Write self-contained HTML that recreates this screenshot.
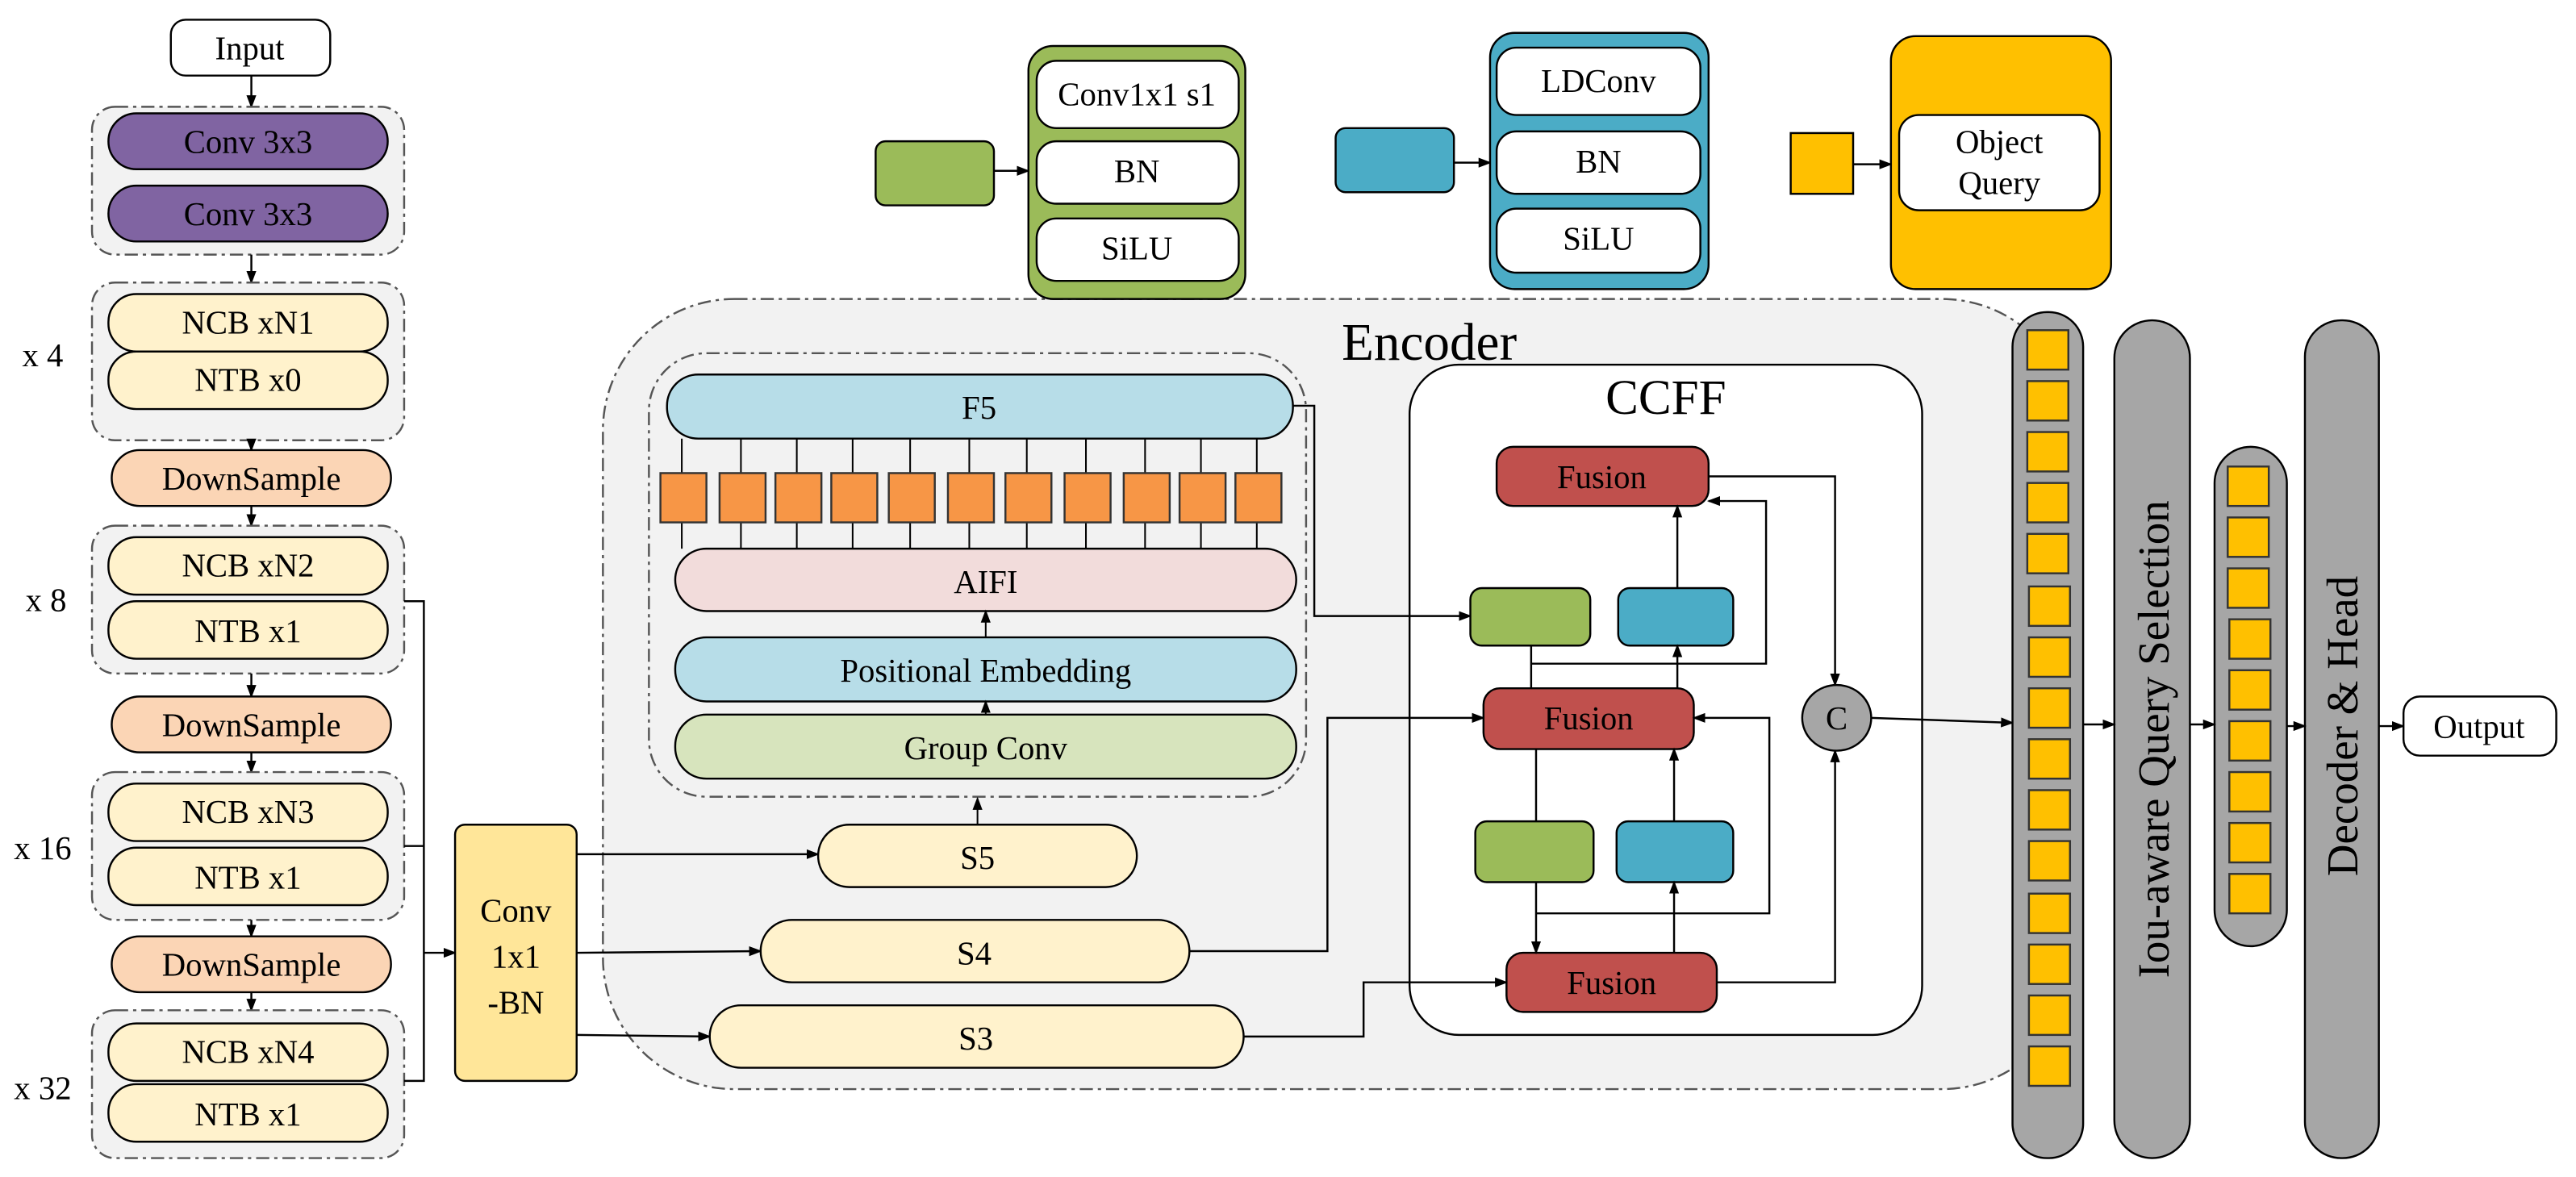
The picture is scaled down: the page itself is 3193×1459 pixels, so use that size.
<!DOCTYPE html>
<html><head><meta charset="utf-8"><style>
html,body{margin:0;padding:0;background:#fff;}
svg{display:block;}
text{font-family:"Liberation Serif","DejaVu Serif",serif;fill:#000;}
</style></head><body>
<svg width="3193" height="1459" viewBox="0 0 1568 716.5" preserveAspectRatio="none" xmlns="http://www.w3.org/2000/svg">
<defs>
<marker id="a" markerWidth="8" markerHeight="8" refX="7" refY="4" orient="auto" markerUnits="userSpaceOnUse"><path d="M0,1 L8,4 L0,7 z" fill="#000"/></marker>
</defs>
<g stroke="#000" stroke-width="1.2">
<!-- Left column -->
<rect x="104" y="12" width="97" height="34" rx="9" fill="#fff"/>
<line x1="153" y1="46" x2="153" y2="65" marker-end="url(#a)"/>
<rect x="56" y="65" width="190" height="90" rx="14" fill="#f2f2f2" stroke="#555" stroke-dasharray="8,3,2,3"/>
<rect x="66" y="69" width="170" height="34" rx="17" fill="#8064a2"/>
<rect x="66" y="113" width="170" height="34" rx="17" fill="#8064a2"/>
<line x1="153" y1="155" x2="153" y2="172" marker-end="url(#a)"/>
<rect x="56" y="172" width="190" height="96" rx="14" fill="#f2f2f2" stroke="#555" stroke-dasharray="8,3,2,3"/>
<rect x="66" y="179" width="170" height="35" rx="17" fill="#fff2cc"/>
<rect x="66" y="214" width="170" height="35" rx="17" fill="#fff2cc"/>
<line x1="153" y1="268" x2="153" y2="274" marker-end="url(#a)"/>
<rect x="68" y="274" width="170" height="34" rx="17" fill="#fbd5b5"/>
<line x1="153" y1="308" x2="153" y2="320" marker-end="url(#a)"/>
<rect x="56" y="320" width="190" height="90" rx="14" fill="#f2f2f2" stroke="#555" stroke-dasharray="8,3,2,3"/>
<rect x="66" y="327" width="170" height="35" rx="17" fill="#fff2cc"/>
<rect x="66" y="366" width="170" height="35" rx="17" fill="#fff2cc"/>
<line x1="153" y1="410" x2="153" y2="424" marker-end="url(#a)"/>
<rect x="68" y="424" width="170" height="34" rx="17" fill="#fbd5b5"/>
<line x1="153" y1="458" x2="153" y2="470" marker-end="url(#a)"/>
<rect x="56" y="470" width="190" height="90" rx="14" fill="#f2f2f2" stroke="#555" stroke-dasharray="8,3,2,3"/>
<rect x="66" y="477" width="170" height="35" rx="17" fill="#fff2cc"/>
<rect x="66" y="516" width="170" height="35" rx="17" fill="#fff2cc"/>
<line x1="153" y1="560" x2="153" y2="570" marker-end="url(#a)"/>
<rect x="68" y="570" width="170" height="34" rx="17" fill="#fbd5b5"/>
<line x1="153" y1="604" x2="153" y2="615" marker-end="url(#a)"/>
<rect x="56" y="615" width="190" height="90" rx="14" fill="#f2f2f2" stroke="#555" stroke-dasharray="8,3,2,3"/>
<rect x="66" y="623" width="170" height="35" rx="17" fill="#fff2cc"/>
<rect x="66" y="660" width="170" height="35" rx="17" fill="#fff2cc"/>
<polyline points="246,366 258,366 258,658 246,658" fill="none"/>
<line x1="246" y1="515" x2="258" y2="515"/>
<line x1="258" y1="580" x2="277" y2="580" marker-end="url(#a)"/>
<rect x="277" y="502" width="74" height="156" rx="6" fill="#ffe699"/>
<!-- Encoder -->
<rect x="367" y="182" width="895" height="481" rx="80" fill="#f2f2f2" stroke="#555" stroke-dasharray="8,3,2,3"/>
<line x1="351" y1="520" x2="498" y2="520" marker-end="url(#a)"/>
<line x1="351" y1="580" x2="463" y2="579" marker-end="url(#a)"/>
<line x1="351" y1="630" x2="432" y2="631" marker-end="url(#a)"/>
<rect x="395" y="215" width="400" height="270" rx="35" fill="none" stroke="#555" stroke-dasharray="8,3,2,3"/>
<rect x="406" y="228" width="381" height="39" rx="19" fill="#b7dde8"/>
<g stroke-width="1">
<line x1="415" y1="267" x2="415" y2="334"/><line x1="451" y1="267" x2="451" y2="334"/><line x1="485" y1="267" x2="485" y2="334"/><line x1="519" y1="267" x2="519" y2="334"/><line x1="554" y1="267" x2="554" y2="334"/><line x1="590" y1="267" x2="590" y2="334"/><line x1="625" y1="267" x2="625" y2="334"/><line x1="661" y1="267" x2="661" y2="334"/><line x1="697" y1="267" x2="697" y2="334"/><line x1="731" y1="267" x2="731" y2="334"/><line x1="765" y1="267" x2="765" y2="334"/>
</g>
<g fill="#f79646" stroke="#333">
<rect x="402" y="288" width="28" height="30"/><rect x="438" y="288" width="28" height="30"/><rect x="472" y="288" width="28" height="30"/><rect x="506" y="288" width="28" height="30"/><rect x="541" y="288" width="28" height="30"/><rect x="577" y="288" width="28" height="30"/><rect x="612" y="288" width="28" height="30"/><rect x="648" y="288" width="28" height="30"/><rect x="684" y="288" width="28" height="30"/><rect x="718" y="288" width="28" height="30"/><rect x="752" y="288" width="28" height="30"/>
</g>
<rect x="411" y="334" width="378" height="38" rx="19" fill="#f2dcdb"/>
<line x1="600" y1="388" x2="600" y2="372" marker-end="url(#a)" stroke-width="1"/>
<rect x="411" y="388" width="378" height="39" rx="19" fill="#b7dde8"/>
<line x1="600" y1="435" x2="600" y2="427" marker-end="url(#a)" stroke-width="1"/>
<rect x="411" y="435" width="378" height="39" rx="19" fill="#d7e4bd"/>
<line x1="595" y1="502" x2="595" y2="486" marker-end="url(#a)" stroke-width="1"/>
<rect x="498" y="502" width="194" height="38" rx="19" fill="#fff2cc"/>
<rect x="463" y="560" width="261" height="38" rx="19" fill="#fff2cc"/>
<rect x="432" y="612" width="325" height="38" rx="19" fill="#fff2cc"/>
<!-- CCFF -->
<rect x="858" y="222" width="312" height="408" rx="30" fill="#fff"/>
<polyline points="787,247 800,247 800,375 895,375" fill="none" marker-end="url(#a)"/>
<polyline points="724,579 808,579 808,437 903,437" fill="none" marker-end="url(#a)"/>
<polyline points="757,631 830,631 830,598 917,598" fill="none" marker-end="url(#a)"/>
<rect x="911" y="272" width="129" height="36" rx="10" fill="#c0504d"/>
<rect x="895" y="358" width="73" height="35" rx="7" fill="#9bbb59"/>
<rect x="985" y="358" width="70" height="35" rx="7" fill="#4bacc6"/>
<rect x="903" y="419" width="128" height="37" rx="10" fill="#c0504d"/>
<rect x="898" y="500" width="72" height="37" rx="7" fill="#9bbb59"/>
<rect x="984" y="500" width="71" height="37" rx="7" fill="#4bacc6"/>
<rect x="917" y="580" width="128" height="36" rx="10" fill="#c0504d"/>
<line x1="1021" y1="358" x2="1021" y2="308" marker-end="url(#a)"/>
<line x1="932" y1="393" x2="932" y2="419"/>
<polyline points="932,404 1075,404 1075,305 1040,305" fill="none" marker-end="url(#a)"/>
<line x1="1021" y1="419" x2="1021" y2="393" marker-end="url(#a)"/>
<line x1="935" y1="456" x2="935" y2="500"/>
<line x1="1019" y1="500" x2="1019" y2="456" marker-end="url(#a)"/>
<line x1="935" y1="537" x2="935" y2="580" marker-end="url(#a)"/>
<polyline points="935,556 1077,556 1077,437 1031,437" fill="none" marker-end="url(#a)"/>
<line x1="1019" y1="580" x2="1019" y2="537" marker-end="url(#a)"/>
<polyline points="1040,290 1117,290 1117,417" fill="none" marker-end="url(#a)"/>
<polyline points="1045,598 1117,598 1117,457" fill="none" marker-end="url(#a)"/>
<ellipse cx="1118" cy="437" rx="21" ry="20" fill="#a6a6a6"/>
<line x1="1139" y1="437" x2="1225" y2="440" marker-end="url(#a)"/>
<!-- Right -->
<rect x="1225" y="190" width="43" height="515" rx="21" fill="#a6a6a6"/>
<rect x="1287" y="195" width="46" height="510" rx="23" fill="#a6a6a6"/>
<rect x="1348" y="272" width="44" height="304" rx="22" fill="#a6a6a6"/>
<rect x="1403" y="195" width="45" height="510" rx="22" fill="#a6a6a6"/>
<g fill="#ffc000" stroke="#333">
<rect x="1234" y="201" width="25" height="24"/><rect x="1234" y="232" width="25" height="24"/><rect x="1234" y="263" width="25" height="24"/><rect x="1234" y="294" width="25" height="24"/><rect x="1234" y="325" width="25" height="24"/><rect x="1235" y="357" width="25" height="24"/><rect x="1235" y="388" width="25" height="24"/><rect x="1235" y="419" width="25" height="24"/><rect x="1235" y="450" width="25" height="24"/><rect x="1235" y="481" width="25" height="24"/><rect x="1235" y="512" width="25" height="24"/><rect x="1235" y="544" width="25" height="24"/><rect x="1235" y="575" width="25" height="24"/><rect x="1235" y="606" width="25" height="24"/><rect x="1235" y="637" width="25" height="24"/>
<rect x="1356" y="284" width="25" height="24"/><rect x="1356" y="315" width="25" height="24"/><rect x="1356" y="346" width="25" height="24"/><rect x="1357" y="377" width="25" height="24"/><rect x="1357" y="408" width="25" height="24"/><rect x="1357" y="439" width="25" height="24"/><rect x="1357" y="470" width="25" height="24"/><rect x="1357" y="501" width="25" height="24"/><rect x="1357" y="532" width="25" height="24"/>
</g>
<line x1="1268" y1="441" x2="1287" y2="441" marker-end="url(#a)"/>
<line x1="1333" y1="441" x2="1348" y2="441" marker-end="url(#a)"/>
<line x1="1392" y1="442" x2="1403" y2="442" marker-end="url(#a)"/>
<line x1="1448" y1="442" x2="1463" y2="442" marker-end="url(#a)"/>
<rect x="1463" y="424" width="93" height="36" rx="10" fill="#fff"/>
<!-- Legend -->
<rect x="533" y="86" width="72" height="39" rx="6" fill="#9bbb59"/>
<line x1="605" y1="104" x2="626" y2="104" marker-end="url(#a)"/>
<rect x="626" y="28" width="132" height="154" rx="15" fill="#9bbb59"/>
<rect x="631" y="37" width="123" height="41" rx="12" fill="#fff"/>
<rect x="631" y="86" width="123" height="38" rx="12" fill="#fff"/>
<rect x="631" y="133" width="123" height="38" rx="12" fill="#fff"/>
<rect x="813" y="78" width="72" height="39" rx="6" fill="#4bacc6"/>
<line x1="885" y1="99" x2="907" y2="99" marker-end="url(#a)"/>
<rect x="907" y="20" width="133" height="156" rx="15" fill="#4bacc6"/>
<rect x="911" y="29" width="124" height="41" rx="12" fill="#fff"/>
<rect x="911" y="80" width="124" height="38" rx="12" fill="#fff"/>
<rect x="911" y="127" width="124" height="39" rx="12" fill="#fff"/>
<rect x="1090" y="81" width="38" height="37" fill="#ffc000"/>
<line x1="1128" y1="100" x2="1151" y2="100" marker-end="url(#a)"/>
<rect x="1151" y="22" width="134" height="154" rx="15" fill="#ffc000"/>
<rect x="1156" y="70" width="122" height="58" rx="12" fill="#fff"/>
</g>
<!-- Text -->
<g font-size="20" text-anchor="middle" font-family="Liberation Serif, DejaVu Serif, serif">
<text x="152" y="36">Input</text>
<text x="151" y="93">Conv 3x3</text>
<text x="151" y="137">Conv 3x3</text>
<text x="151" y="203">NCB xN1</text>
<text x="151" y="238">NTB x0</text>
<text x="153" y="298">DownSample</text>
<text x="151" y="351">NCB xN2</text>
<text x="151" y="391">NTB x1</text>
<text x="153" y="448">DownSample</text>
<text x="151" y="501">NCB xN3</text>
<text x="151" y="541">NTB x1</text>
<text x="153" y="594">DownSample</text>
<text x="151" y="647">NCB xN4</text>
<text x="151" y="685">NTB x1</text>
<text x="26" y="223">x 4</text>
<text x="28" y="372">x 8</text>
<text x="26" y="523">x 16</text>
<text x="26" y="669">x 32</text>
<text x="314" y="561">Conv</text>
<text x="314" y="589">1x1</text>
<text x="314" y="617">-BN</text>
<text x="596" y="255">F5</text>
<text x="600" y="361">AIFI</text>
<text x="600" y="415">Positional Embedding</text>
<text x="600" y="462">Group Conv</text>
<text x="595" y="529">S5</text>
<text x="593" y="587">S4</text>
<text x="594" y="639">S3</text>
<text x="975" y="297">Fusion</text>
<text x="967" y="444">Fusion</text>
<text x="981" y="605">Fusion</text>
<text x="1118" y="444">C</text>
<text x="1509" y="449">Output</text>
<text x="692" y="64">Conv1x1 s1</text>
<text x="692" y="111">BN</text>
<text x="692" y="158">SiLU</text>
<text x="973" y="56">LDConv</text>
<text x="973" y="105">BN</text>
<text x="973" y="152">SiLU</text>
<text x="1217" y="93">Object</text>
<text x="1217" y="118">Query</text>
</g>
<g font-family="Liberation Serif, DejaVu Serif, serif" text-anchor="middle">
<text x="870" y="219" font-size="32">Encoder</text>
<text x="1014" y="252" font-size="30">CCFF</text>
<text transform="translate(1320,450) rotate(-90)" font-size="27">Iou-aware Query Selection</text>
<text transform="translate(1435,442) rotate(-90)" font-size="27">Decoder  &amp; Head</text>
</g>
</svg>
</body></html>
